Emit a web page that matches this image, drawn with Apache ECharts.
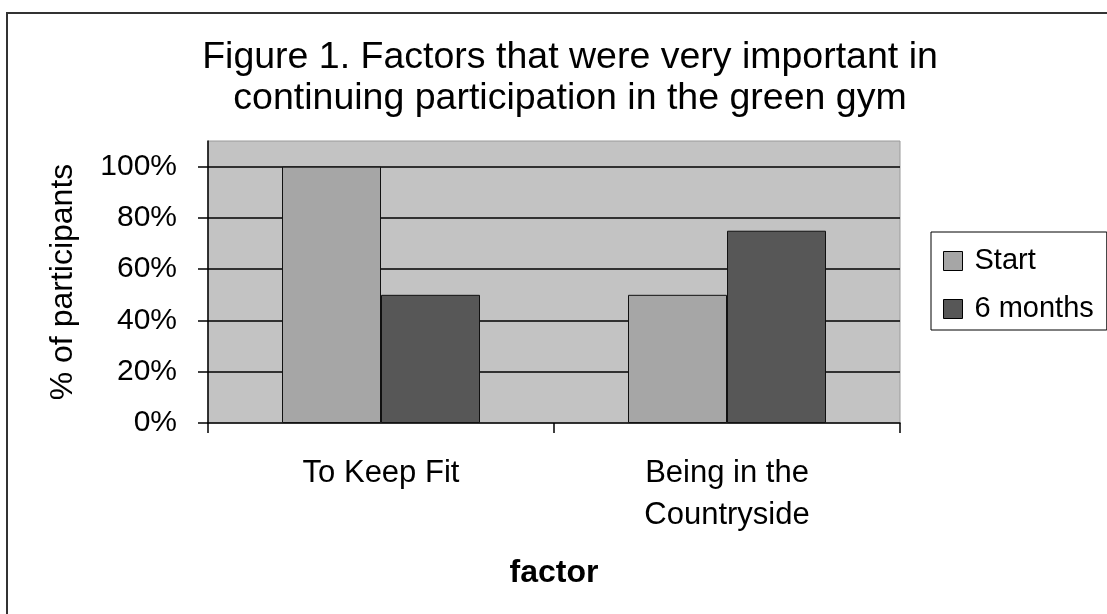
<!DOCTYPE html>
<html>
<head>
<meta charset="utf-8">
<script src="https://cdn.jsdelivr.net/npm/echarts@6/dist/echarts.min.js"></script>
<style>
html,body{margin:0;padding:0;background:#fff;}
#chart{width:1107px;height:614px;}
</style>
</head>
<body>
<div id="chart"></div>
<script>
const categories = ['To Keep Fit', 'Being in the\nCountryside'];
const startValues = [100, 50];
const sixMonthValues = [50, 75];
const yTicks = [0, 20, 40, 60, 80, 100];
const seriesNames = ['Start', '6 months'];

const FONT = '"Liberation Sans", Arial, sans-serif';
const chart = echarts.init(document.getElementById('chart'), null, {renderer: 'canvas'});
chart.setOption({
  backgroundColor: '#ffffff',
  animation: false,
  textStyle: {fontFamily: FONT, color: '#000'},
  title: {
    text: 'Figure 1. Factors that were very important in\ncontinuing participation in the green gym',
    left: 565,
    textAlign: 'center',
    top: 32,
    textStyle: {fontFamily: FONT, fontSize: 37.5, fontWeight: 'normal', color: '#000', lineHeight: 41}
  },
  graphic: [{
    type: 'rect',
    shape: {x: 7, y: 13, width: 1200, height: 700},
    style: {fill: 'none', stroke: '#333', lineWidth: 2},
    silent: true
  }],
  legend: {
    data: seriesNames,
    orient: 'vertical',
    left: 931,
    top: 232,
    padding: [14, 13, 6, 12],
    itemGap: 18,
    itemWidth: 19,
    itemHeight: 19,
    icon: 'rect',
    backgroundColor: '#fff',
    borderColor: '#000',
    borderWidth: 1,
    borderRadius: 0,
    textStyle: {fontFamily: FONT, fontSize: 29, color: '#000', lineHeight: 30, padding: [0, 0, 0, 7]},
    itemStyle: {borderColor: '#000', borderWidth: 1}
  },
  grid: {
    left: 208, right: 207, top: 141, bottom: 191,
    show: true,
    backgroundColor: '#c3c3c3',
    borderColor: '#9a9a9a',
    borderWidth: 1,
    containLabel: false
  },
  xAxis: {
    type: 'category',
    data: categories,
    name: 'factor',
    nameLocation: 'middle',
    nameGap: 134,
    nameTextStyle: {fontFamily: FONT, fontSize: 32, fontWeight: 'bold', color: '#000'},
    axisLine: {show: true, lineStyle: {color: '#000', width: 1.5}},
    axisTick: {show: true, length: 10, alignWithLabel: false, lineStyle: {color: '#000', width: 1.5}},
    axisLabel: {fontFamily: FONT, fontSize: 31, color: '#000', margin: 29, lineHeight: 42, interval: 0},
    splitLine: {show: false}
  },
  yAxis: {
    type: 'value',
    min: 0,
    max: 110,
    interval: 20,
    name: '% of participants',
    nameLocation: 'middle',
    nameRotate: 90,
    nameGap: 129,
    nameTextStyle: {fontFamily: FONT, fontSize: 32, color: '#000'},
    axisLine: {show: true, lineStyle: {color: '#000', width: 1.5}},
    axisTick: {show: true, length: 10, inside: false, customValues: yTicks, lineStyle: {color: '#000', width: 1.5}},
    axisLabel: {fontFamily: FONT, fontSize: 30, color: '#000', margin: 31, customValues: yTicks, formatter: '{value}%'},
    splitLine: {show: true, showMaxLine: true, showMinLine: false, lineStyle: {color: '#000', width: 1.5}}
  },
  series: [
    {
      name: seriesNames[0],
      type: 'bar',
      data: startValues,
      barWidth: 99,
      barGap: '0%',
      itemStyle: {color: '#a6a6a6', borderColor: '#111', borderWidth: 1}
    },
    {
      name: seriesNames[1],
      type: 'bar',
      data: sixMonthValues,
      barWidth: 99,
      barGap: '0%',
      itemStyle: {color: '#575757', borderColor: '#111', borderWidth: 1}
    }
  ]
});
</script>
</body>
</html>
